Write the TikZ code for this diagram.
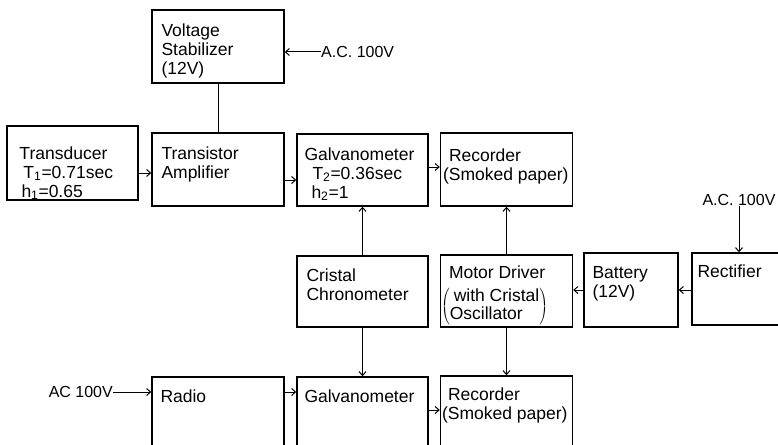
\documentclass[tikz,border=0pt]{standalone}
\usepackage{fontspec}
\setmainfont{Liberation Sans}
\usetikzlibrary{calc,arrows.meta}

\begin{document}
\begin{tikzpicture}[x=1pt, y=-1pt,
  blk/.style={draw, line width=1.4pt, inner sep=0pt, minimum width=132pt, minimum height=73pt},
  txt/.style={anchor=north west, inner sep=0pt, align=left, font=\fontsize{17.5}{19}\selectfont},
  lbl/.style={inner sep=0pt, font=\fontsize{16}{18}\selectfont},
  arr/.style={line width=1pt, -{Straight Barb[length=4pt,width=7pt]}}]
  \useasboundingbox (0,0) rectangle (778,444);
  \clip (0,0) rectangle (778,444);

  % blocks
  \node[blk] (vs) at (218,46.5) {};
  \node[blk, minimum width=131pt, minimum height=74pt] (td) at (72.5,163) {};
  \node[blk] (amp) at (218,169.5) {};
  \node[blk, minimum width=131pt, minimum height=72pt] (gv) at (362.5,170) {};
  \node[blk] (rec) at (506.5,169.5) {};
  \node[blk, minimum width=131pt, minimum height=71pt] (cc) at (362.5,291.5) {};
  \node[blk, minimum height=72pt] (md) at (506.5,291) {};
  \node[blk, minimum width=94pt, minimum height=74pt] (bat) at (631,290) {};
  \node[blk, minimum width=120pt, minimum height=72pt] (rf) at (752,289) {};
  \node[blk, minimum height=90pt] (rad) at (218,422) {};
  \node[blk, minimum width=131pt, minimum height=90pt] (gv2) at (362.5,422) {};
  \node[blk, minimum height=90pt] (rec2) at (506.5,421) {};

  % texts
  \node[txt] (vst) at ($(vs.north west)+(10,14)$) {Voltage\\Stabilizer\\(12V)};
  \node[txt] (tdt) at ($(td.north west)+(13,21)$)
    {Transducer\\\hspace*{4pt}T\textsubscript{1}=0.71sec\\\hspace*{2pt}h\textsubscript{1}=0.65};
  \node[txt] (ampt) at ($(amp.north west)+(10,14)$) {Transistor\\Amplifier};
  \node[txt] (gvt) at ($(gv.north west)+(8,14)$)
    {Galvanometer\\\hspace*{8pt}T\textsubscript{2}=0.36sec\\\hspace*{7pt}h\textsubscript{2}=1};
  \node[txt] (rect) at ($(rec.north west)+(3,16)$) {\hspace*{6pt}Recorder\\(Smoked paper)};
  \node[txt] (cct) at ($(cc.north west)+(10,13)$) {Cristal\\Chronometer};
  \node[txt] (mdt) at ($(md.north west)+(9,11)$) {Motor Driver};
  \node[txt] (mdp) at ($(md.north west)+(1,34)$)
    {\renewcommand\arraystretch{0.95}%
     $\left(\mbox{\begin{tabular}{@{}l@{}}\hspace*{4pt}with Cristal\\Oscillator\ \end{tabular}}\right)$};
  \node[txt] (batt) at ($(bat.north west)+(9,14)$) {Battery\\(12V)};
  \node[txt] (rft) at ($(rf.north west)+(6,12)$) {Rectifier};
  \node[txt] (radt) at ($(rad.north west)+(9,13)$) {Radio};
  \node[txt] (gv2t) at ($(gv2.north west)+(8,13)$) {Galvanometer};
  \node[txt] (rec2t) at ($(rec2.north west)+(2,12)$) {\hspace*{6pt}Recorder\\(Smoked paper)};

  \node[lbl, anchor=west] (acvs) at (321,52) {A.C. 100V};
  \node[lbl] (acrf) at (739,200) {A.C. 100V};
  \node[lbl, anchor=east] (acrad) at (113,392) {AC 100V};

  % connectors
  \coordinate (p1) at ([yshift=-3.5pt]amp.west);
  \coordinate (p2) at ([yshift=-10pt]gv.west);
  \coordinate (p3) at ([yshift=2.5pt]rec.west);
  \coordinate (p4) at ([yshift=12pt]gv2.east);

  \draw[line width=1pt] (vs) -- (amp);
  \draw[arr] (acvs.west) -- (acvs.west -| vs.east);
  \draw[arr] (td.east |- p1) -- (p1);
  \draw[arr] (amp.east |- p2) -- (p2);
  \draw[arr] (gv.east |- p3) -- (p3);
  \draw[arr] (cc) -- (gv);
  \draw[arr] (cc) -- (gv2);
  \draw[arr] (md) -- (rec);
  \draw[arr] (md) -- (rec2);
  \draw[arr] (bat.west) -- (bat.west -| md.east);
  \draw[arr] (rf.west |- bat.east) -- (bat.east);
  \draw[arr] (acrf.south) -- (acrf.south |- rf.north);
  \draw[arr] (acrad.east) -- (acrad.east -| rad.west);
  \draw[arr] (acrad.east -| rad.east) -- (acrad.east -| gv2.west);
  \draw[arr] (p4) -- (p4 -| rec2.west);
\end{tikzpicture}
\end{document}
